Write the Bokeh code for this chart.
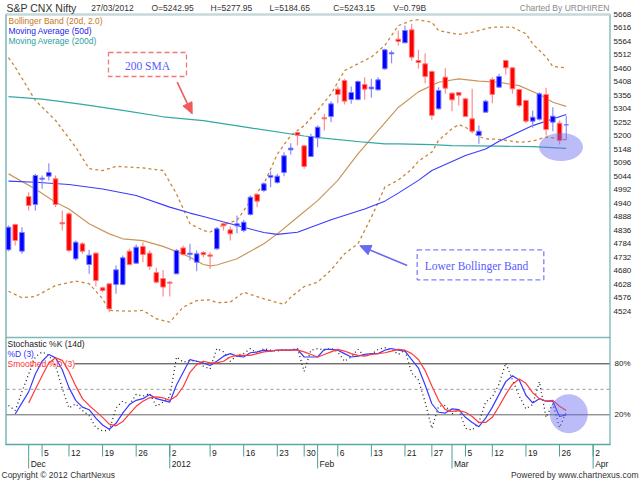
import numpy as np
from bokeh.plotting import figure
from bokeh.models import Range1d
from bokeh.core.properties import value
from bokeh.embed import file_html
from bokeh.resources import INLINE

# ---------------- data ----------------
opens = [4761.5, 4859.0, 4756.3, 4967.0, 4936.1, 5033.7, 5045.3, 5035.0, 4866.8, 4900.0,
         4726.8, 4784.6, 4705.0, 4748.7, 4615.0, 4630.5, 4628.0, 4628.0, 4756.3, 4710.0,
         4774.4, 4748.7, 4674.0, 4651.0, 4637.0, 4669.0, 4769.0, 4743.5, 4714.0, 4751.0,
         4742.0, 4765.3, 4861.6, 4838.5, 4854.0, 4836.0, 4897.6, 4974.6, 4990.0, 5041.4,
         5020.9, 5059.4, 5146.7, 5213.5, 5162.1, 5121.0, 5192.9, 5270.0, 5275.1, 5380.4,
         5413.8, 5340.6, 5340.6, 5398.4, 5381.7, 5377.8, 5458.7, 5516.5, 5573.0, 5558.9,
         5609.0, 5490.8, 5478.0, 5448.4, 5304.6, 5426.6, 5365.0, 5367.5, 5343.1, 5266.1,
         5201.9, 5291.8, 5417.6, 5388.1, 5490.8, 5462.6, 5379.1, 5336.7, 5257.1, 5264.8,
         5359.8, 5253.3, 5249.4, 5242.95]
highs = [4855.0, 4861.5, 4848.8, 4983.6, 5054.0, 5047.8, 5095.3, 5048.0, 4913.0, 4906.6,
         4797.4, 4791.0, 4761.5, 4752.5, 4620.0, 4633.0, 4701.0, 4739.7, 4765.4, 4782.0,
         4791.0, 4759.0, 4692.0, 4684.0, 4641.0, 4765.0, 4778.0, 4784.6, 4759.0, 4756.0,
         4752.0, 4848.8, 4872.0, 4851.0, 4893.8, 4877.0, 4970.8, 4979.8, 5022.0, 5064.5,
         5054.3, 5137.7, 5172.4, 5214.8, 5164.7, 5208.3, 5240.4, 5285.4, 5334.1, 5390.6,
         5420.2, 5390.6, 5413.8, 5426.6, 5420.2, 5426.6, 5535.7, 5529.3, 5606.4, 5625.6,
         5632.0, 5531.9, 5519.0, 5452.3, 5388.0, 5461.3, 5368.8, 5368.8, 5347.0, 5381.7,
         5240.4, 5339.3, 5426.6, 5439.4, 5493.4, 5465.1, 5381.7, 5339.3, 5298.2, 5368.8,
         5385.5, 5311.0, 5259.7, 5277.95]
lows = [4756.0, 4778.0, 4746.0, 4913.0, 4913.0, 4996.5, 5028.6, 4926.0, 4836.0, 4752.5,
        4720.4, 4746.0, 4669.0, 4620.0, 4598.4, 4521.4, 4592.0, 4624.0, 4701.0, 4707.6,
        4714.0, 4684.4, 4633.0, 4582.0, 4582.0, 4669.0, 4740.0, 4720.4, 4679.0, 4733.0,
        4688.0, 4761.5, 4836.0, 4797.0, 4825.7, 4829.5, 4893.8, 4925.8, 4983.6, 5003.0,
        5015.7, 5045.3, 5128.7, 5163.4, 5073.5, 5118.4, 5157.0, 5221.2, 5253.3, 5326.5,
        5321.3, 5323.9, 5336.7, 5339.3, 5347.0, 5375.2, 5454.8, 5480.5, 5547.3, 5558.9,
        5490.8, 5458.7, 5403.5, 5262.3, 5300.8, 5362.4, 5295.6, 5317.5, 5272.5, 5210.9,
        5169.8, 5291.8, 5326.5, 5385.5, 5436.9, 5362.4, 5311.0, 5249.4, 5231.4, 5259.7,
        5201.9, 5218.6, 5167.2, 5184.65]
closes = [4848.8, 4797.4, 4828.3, 4932.3, 5047.8, 5037.5, 5059.4, 4936.0, 4861.6, 4759.0,
          4791.0, 4756.3, 4741.0, 4643.4, 4605.0, 4534.0, 4684.4, 4730.7, 4705.0, 4771.8,
          4743.5, 4697.3, 4637.0, 4618.0, 4633.0, 4759.0, 4743.5, 4748.7, 4746.0, 4743.0,
          4737.0, 4842.4, 4854.0, 4823.0, 4861.6, 4868.0, 4964.4, 4949.0, 5015.7, 5047.8,
          5045.3, 5123.6, 5153.1, 5203.2, 5082.5, 5198.0, 5234.0, 5266.0, 5323.9, 5359.8,
          5334.1, 5367.5, 5409.9, 5380.4, 5388.1, 5416.3, 5531.9, 5520.3, 5564.0, 5606.4,
          5503.6, 5483.1, 5429.2, 5278.9, 5375.2, 5384.2, 5339.3, 5357.3, 5275.1, 5218.6,
          5218.6, 5334.1, 5359.8, 5429.2, 5462.6, 5381.7, 5317.5, 5257.1, 5272.5, 5362.4,
          5225.0, 5276.4, 5182.6, 5243.15]

bb_up_idx = [0, 1, 4, 7, 10, 12, 14, 16, 20, 23, 25, 27, 29, 30, 32, 34, 36, 38, 40, 42,
             44, 46, 48, 50, 52, 54, 56, 58, 60, 61, 63, 64, 66, 67, 69, 72, 75, 77, 78, 80, 81, 83]
bb_up_val = [5502, 5465, 5337, 5260, 5157, 5074, 5067, 5083, 5077, 5067, 4977, 4862, 4836, 4830,
             4858, 4875, 4950, 5015, 5130, 5202, 5240, 5298, 5362, 5452, 5478, 5504, 5549, 5625,
             5645, 5648, 5638, 5606, 5596, 5591, 5600, 5619, 5619, 5594, 5555, 5504, 5468, 5462]
bb_mid_idx = [0, 4, 7, 9, 12, 15, 17, 20, 23, 26, 27, 29, 30, 31, 34, 38, 40, 43, 46, 49,
              52, 55, 58, 61, 64, 67, 70, 73, 76, 79, 81, 83]
bb_mid_val = [5054, 4996, 4945, 4919, 4862, 4823, 4804, 4797, 4775, 4745, 4733, 4705, 4700, 4703,
              4727, 4785, 4823, 4887, 4951, 5029, 5131, 5221, 5310, 5370, 5407, 5420, 5411, 5407,
              5394, 5360, 5330, 5314]
bb_lo_idx = [0, 2, 4, 7, 10, 12, 14, 15, 18, 20, 22, 24, 26, 28, 30, 31, 33, 35, 38, 41,
             42, 44, 46, 48, 50, 52, 54, 56, 58, 60, 61, 63, 64, 66, 67, 68, 70, 71, 73, 76,
             78, 80, 81, 83]
bb_lo_val = [4602, 4577, 4582, 4624, 4641, 4631, 4573, 4528, 4525, 4528, 4496, 4483, 4541, 4566,
             4569, 4558, 4560, 4598, 4573, 4551, 4579, 4620, 4637, 4684, 4746, 4785, 4887, 5003,
             5030, 5072, 5103, 5138, 5183, 5228, 5244, 5234, 5198, 5189, 5187, 5176, 5180, 5196,
             5193, 5185]
ma50_idx = [0, 4, 9, 14, 19, 24, 27, 29, 34, 38, 40, 43, 48, 53, 56, 58, 61, 63, 68, 71, 73, 78, 83]
ma50_val = [5026, 5022, 5013, 4996, 4971, 4926, 4903, 4890, 4855, 4828, 4821, 4829, 4877, 4919,
            4949, 4980, 5029, 5067, 5125, 5150, 5180, 5240, 5283]
ma200_idx = [0, 5, 11, 17, 23, 29, 36, 44, 48, 53, 56, 58, 63, 66, 73, 78, 83]
ma200_val = [5352, 5342, 5322, 5299, 5274, 5259, 5231, 5200, 5189, 5176, 5170, 5170, 5167, 5163,
             5161, 5159, 5152]

stoch_k = [31, 25, 47, 68, 88, 94, 90, 78, 51, 28, 33, 25, 19, 5, 1, 2, 28, 36, 32, 44,
           42, 45, 30, 35, 41, 88, 82, 84, 83, 77, 74, 98, 94, 83, 90, 92, 98, 92, 98, 96,
           95, 97, 96, 98, 71, 96, 98, 96, 98, 94, 83, 88, 97, 89, 91, 97, 99, 97, 91, 96,
           69, 61, 35, 4, 30, 31, 21, 26, 4, 2, 11, 35, 41, 56, 81, 61, 42, 27, 32, 59,
           17, 33, 5, 23]
stoch_d_first = 1
stoch_d = [21, 34, 47, 68, 83, 91, 87, 73, 52, 37, 29, 26, 16, 8, 3, 10, 22, 32, 37, 39,
           44, 39, 37, 35, 55, 70, 85, 83, 81, 78, 83, 89, 92, 89, 88, 93, 94, 96, 95, 96,
           96, 96, 97, 88, 88, 88, 97, 97, 96, 92, 88, 89, 91, 92, 92, 96, 98, 96, 95, 85,
           75, 55, 33, 23, 22, 27, 26, 17, 11, 6, 16, 29, 44, 59, 66, 61, 43, 34, 39, 36,
           36, 18, 20]
stoch_sd_first = 3
stoch_sd = [34, 50, 66, 81, 87, 84, 71, 54, 39, 31, 24, 17, 9, 7, 12, 21, 30, 36, 40, 41,
            40, 37, 42, 53, 70, 79, 83, 81, 81, 83, 88, 90, 90, 90, 92, 94, 95, 96, 96, 96,
            96, 94, 91, 88, 91, 94, 97, 95, 92, 90, 89, 91, 92, 93, 95, 97, 96, 92, 85, 72,
            54, 37, 26, 24, 25, 23, 18, 11, 11, 17, 30, 44, 56, 62, 57, 46, 39, 36, 37, 30, 25]

day_tick_idx = [5, 9, 14, 19, 24, 30, 35, 40, 44, 49, 54, 59, 63, 68, 72, 77, 82, 87]
day_tick_labels = ["5", "12", "19", "26", "2", "9", "16", "23", "30", "6", "13", "21",
                   "27", "5", "12", "19", "26", "2"]
month_tick_idx = [3, 24, 46, 66, 87]
month_tick_labels = ["Dec", "2012", "Feb", "Mar", "Apr"]
price_ticks = [4524, 4576, 4628, 4680, 4732, 4784, 4836, 4888, 4940, 4992, 5044, 5096,
               5148, 5200, 5252, 5304, 5356, 5408, 5460, 5512, 5564, 5616, 5668]
stoch_levels = [80, 20]
stoch_level_labels = ["80%", "20%"]

header_items = ["27/03/2012", "O=5242.95", "H=5277.95", "L=5184.65", "C=5243.15", "V=0.79B"]

# ---------------- layout ----------------
W, H = 640, 480
X0, STEP = 8.0, 6.72             # canvas x of first candle, px per bar
PK = 0.2596                      # px per index point
def X(xr): return xr
def Y(yr): return H - yr
p_lo = 5668 - (H - 14) / PK
p_hi = 5668 + 14 / PK
st_lo = 20 + (414.3 - H) / 0.85
st_hi = 20 + 414.3 / 0.85

p = figure(width=W, height=H, output_backend="svg", toolbar_location=None,
           x_range=Range1d(-X0 / STEP, (W - X0) / STEP),
           y_range=Range1d(p_lo, p_hi),
           x_axis_location=None, y_axis_location=None, title=None,
           min_border=0, outline_line_color=None,
           background_fill_color="white", border_fill_color="white")
p.grid.visible = False
p.extra_x_ranges = {"px": Range1d(0, W)}
p.extra_y_ranges = {"px": Range1d(0, H), "stoch": Range1d(st_lo, st_hi)}

SANS = value("Liberation Sans")
SERIF = value("Liberation Serif")

def txt(x, y, s, size="8.5px", color="#222", align="left", font=SANS):
    p.text(x=[x], y=[y], text=[s], text_font=font, text_font_size=size,
           text_color=color, text_align=align, text_baseline="middle",
           x_range_name="px", y_range_name="px")

def seg(x0, y0, x1, y1, color, width=1.0, dash="solid"):
    p.segment(x0=[x0], y0=[y0], x1=[x1], y1=[y1], line_color=color, line_width=width,
              line_dash=dash, x_range_name="px", y_range_name="px")

# frame
seg(X(5), Y(14), X(610), Y(14), "#c4d8d8", 2.5)
seg(X(609.5), Y(14), X(609.5), Y(444), "#a8cece", 2)
seg(X(5.5), Y(14), X(5.5), Y(444), "#7ab6b6", 1.5)
seg(X(5), Y(444), X(610), Y(444), "#5aa6a6", 1.5)
seg(X(5), Y(337), X(610), Y(337), "#80b8b8", 1.5)

# x axis ticks
n_d = len(day_tick_idx)
p.segment(x0=day_tick_idx, x1=day_tick_idx, y0=[Y(444)] * n_d, y1=[Y(456)] * n_d,
          line_color="#4a9e9e", line_width=1, y_range_name="px")
n_m = len(month_tick_idx)
p.segment(x0=month_tick_idx, x1=month_tick_idx, y0=[Y(444)] * n_m, y1=[Y(468)] * n_m,
          line_color="#4a9e9e", line_width=1, y_range_name="px")
p.text(x=day_tick_idx, y=[Y(452)] * n_d, text=day_tick_labels, x_offset=2,
       text_font=SANS, text_font_size="8.5px", text_color="#222",
       text_baseline="middle", y_range_name="px")
p.text(x=month_tick_idx, y=[Y(463)] * n_m, text=month_tick_labels, x_offset=2,
       text_font=SANS, text_font_size="8.5px", text_color="#222",
       text_baseline="middle", y_range_name="px")

# right price labels
p.text(x=[X(613)] * len(price_ticks), y=price_ticks, text=[str(t) for t in price_ticks],
       text_font=SANS, text_font_size="8px", text_color="#222", text_baseline="middle",
       x_range_name="px")

# stochastic guide lines
p.segment(x0=[X(74), X(6)], x1=[X(609), X(609)], y0=stoch_levels, y1=stoch_levels,
          line_color=["#333333", "#666666"], line_width=1, x_range_name="px", y_range_name="stoch")
p.segment(x0=[X(6)], x1=[X(609)], y0=[50], y1=[50], line_color="#999999", line_width=1,
          line_dash="3 3", x_range_name="px", y_range_name="stoch")
p.text(x=[X(614)] * 2, y=stoch_levels, text=stoch_level_labels, text_font=SANS,
       text_font_size="8px", text_color="#222", text_baseline="middle",
       x_range_name="px", y_range_name="stoch")

# bollinger + moving averages
p.line(bb_up_idx, bb_up_val, line_color="#c8873a", line_width=1.3, line_dash="3 3")
p.line(bb_lo_idx, bb_lo_val, line_color="#c8873a", line_width=1.3, line_dash="3 3")
p.line(bb_mid_idx, bb_mid_val, line_color="#c9965a", line_width=1.2)
p.line(ma200_idx, ma200_val, line_color="#34a8a2", line_width=1.2)
p.line(ma50_idx, ma50_val, line_color="#3a3aff", line_width=1.1)

# candles
o = np.array(opens); c = np.array(closes); hi = np.array(highs); lo = np.array(lows)
idx = np.arange(len(c))
up = c >= o
wick_col = ["#8c8cff" if u else "#ff8c8c" for u in up]
body_col = ["#0000ff" if u else "#ff0000" for u in up]
edge_col = ["#7a7aff" if u else "#ff7a7a" for u in up]
p.segment(x0=idx, y0=lo, x1=idx, y1=hi, line_color=wick_col, line_width=1.2)
p.vbar(x=idx, width=0.68, top=np.maximum(o, c), bottom=np.minimum(o, c),
       fill_color=body_col, line_color=edge_col, line_width=1)

# stochastic lines
p.line(idx, stoch_k, line_color="#222222", line_width=1.3, line_dash="1 3", y_range_name="stoch")
p.line(np.arange(stoch_d_first, stoch_d_first + len(stoch_d)), stoch_d,
       line_color="#3a3aff", line_width=1.2, y_range_name="stoch")
p.line(np.arange(stoch_sd_first, stoch_sd_first + len(stoch_sd)), stoch_sd,
       line_color="#ff3a3a", line_width=1.2, y_range_name="stoch")

# annotations
def arrow(xs, ys, xe, ye, color, hl=10, hw=5, width=1.6):
    dx, dy = xe - xs, ye - ys
    L = np.hypot(dx, dy)
    ux, uy = dx / L, dy / L
    bx, by = xe - ux * hl, ye - uy * hl
    nx, ny = -uy, ux
    p.line([xs, bx], [ys, by], line_color=color, line_width=width,
           x_range_name="px", y_range_name="px")
    p.patch([xe, bx + nx * hw, bx - nx * hw], [ye, by + ny * hw, by - ny * hw],
            fill_color=color, line_color=color, x_range_name="px", y_range_name="px")

p.quad(left=[X(108)], right=[X(186)], top=[Y(52)], bottom=[Y(76)], fill_color=None,
       line_color="#f07a7a", line_dash="5 3", line_width=1.3, x_range_name="px", y_range_name="px")
txt(X(147), Y(65), "200 SMA", size="11.5px", color="#5a5aff", align="center", font=SERIF)
arrow(X(176.7), Y(81.7), X(191.7), Y(113.3), "#f05a5a", hl=11, hw=5)

p.quad(left=[X(416.7)], right=[X(543.3)], top=[Y(249.3)], bottom=[Y(279.3)], fill_color=None,
       line_color="#7f7fff", line_dash="5 3", line_width=1.3, x_range_name="px", y_range_name="px")
txt(X(476), Y(265), "Lower Bollinger Band", size="11.5px", color="#5a5aff", align="center", font=SERIF)
arrow(X(406.7), Y(265), X(359.3), Y(245.3), "#6a6af0", hl=11, hw=5)

p.ellipse(x=[X(560.5)], y=[Y(146.5)], width=44, height=28, fill_color="#6a6af0",
          fill_alpha=0.45, line_color=None, x_range_name="px", y_range_name="px")
p.ellipse(x=[X(568.3)], y=[Y(413.3)], width=38, height=39, fill_color="#6a6af0",
          fill_alpha=0.45, line_color=None, x_range_name="px", y_range_name="px")

# legends
txt(X(8), Y(20.7), "Bollinger Band (20d, 2.0)", color="#c8781e")
txt(X(8), Y(30.7), "Moving Average (50d)", color="#2424ee")
txt(X(8), Y(40.7), "Moving Average (200d)", color="#2aa0a0")
txt(X(7), Y(343.3), "Stochastic %K (14d)", color="#222222")
txt(X(7), Y(353.3), "%D (3)", color="#3030ff")
txt(X(7), Y(363.3), "Smoothed %D (3)", color="#ff3030")

# header
txt(X(6), Y(7), "S&P CNX Nifty", size="10.5px", color="#333333")
hx = [90.7, 151, 210, 269, 332.7, 392.7]
for xx, s in zip(hx, header_items):
    txt(X(xx), Y(7), s, size="8.5px", color="#333333")
txt(X(609), Y(7), "Charted By URDHIREN", size="8.5px", color="#8a8a8a", align="right")

# footer
txt(X(1), Y(474), "Copyright \u00a9 2012 ChartNexus", size="8.5px", color="#333333")
txt(X(638), Y(474), "Powered by www.chartnexus.com", size="8.5px", color="#333333", align="right")

open("out.html", "w").write(file_html(p, INLINE))
